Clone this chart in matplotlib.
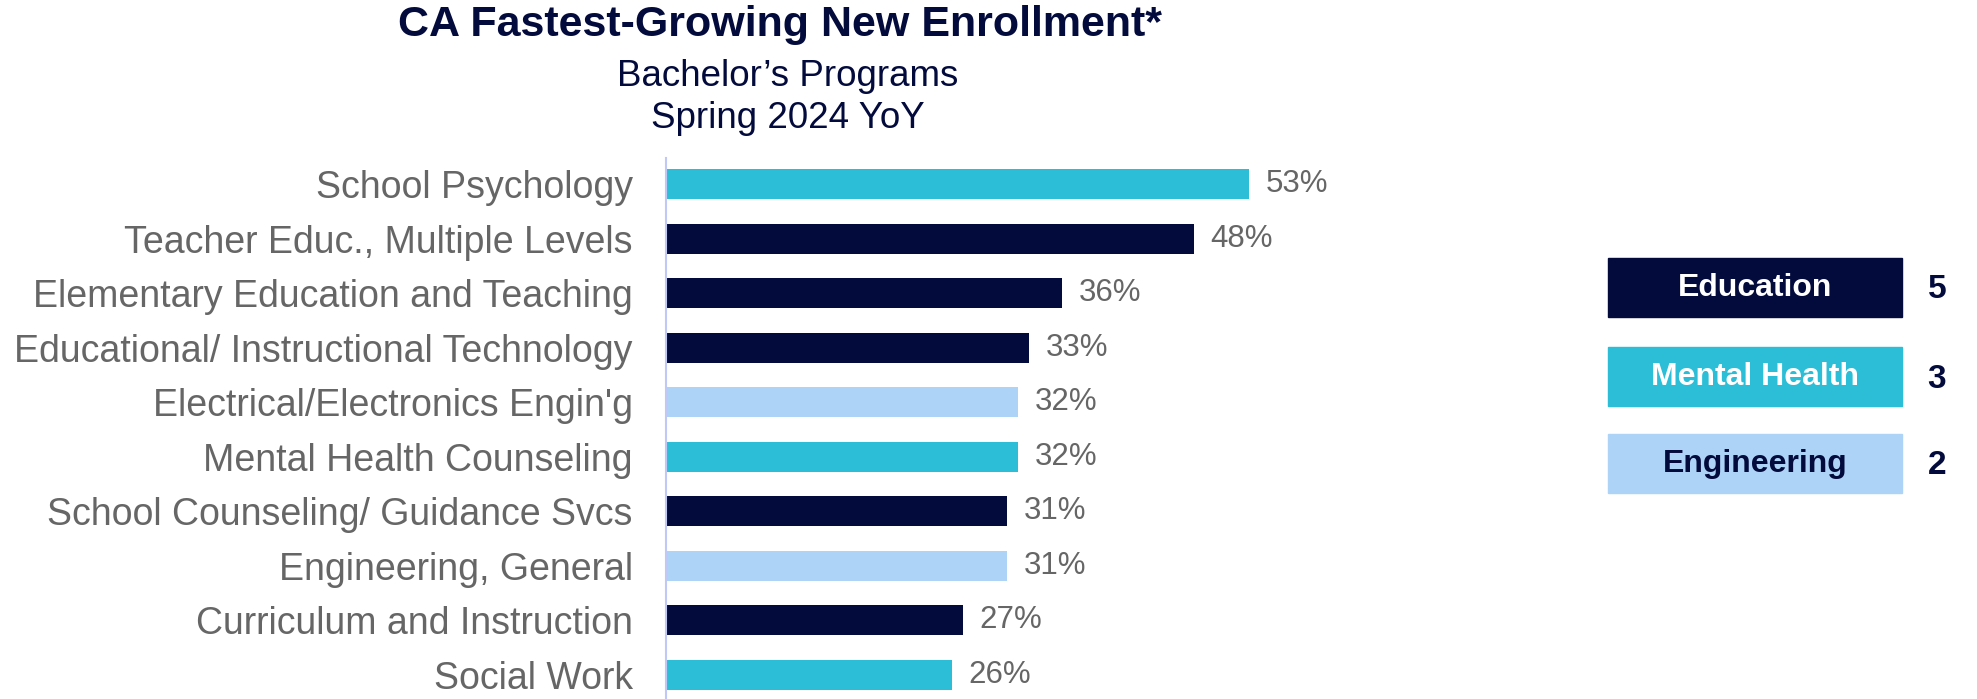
import matplotlib.pyplot as plt
from matplotlib.patches import Rectangle

plt.rcParams['font.family'] = ['Liberation Sans', 'DejaVu Sans']

# data
programs = ['School Psychology', 'Teacher Educ., Multiple Levels',
            'Elementary Education and Teaching', 'Educational/ Instructional Technology',
            "Electrical/Electronics Engin'g", 'Mental Health Counseling',
            'School Counseling/ Guidance Svcs', 'Engineering, General',
            'Curriculum and Instruction', 'Social Work']
growth = [53, 48, 36, 33, 32, 32, 31, 31, 27, 26]
group = ['Mental Health', 'Education', 'Education', 'Education', 'Engineering',
         'Mental Health', 'Education', 'Engineering', 'Education', 'Mental Health']
legend_groups = ['Education', 'Mental Health', 'Engineering']
legend_counts = [5, 3, 2]

navy = '#030b3c'
colors = {'Education': navy, 'Mental Health': '#2bbed6', 'Engineering': '#add3f7'}
text_cols = {'Education': 'white', 'Mental Health': 'white', 'Engineering': navy}
grey = '#666666'

W, H = 1977, 699
fig = plt.figure(figsize=(W / 100, H / 100), dpi=100)
ax = fig.add_axes([666 / W, 0, 660 / W, 1 - 158 / H])

y = list(range(len(programs)))
ax.barh(y, growth, height=0.55, color=[colors[g] for g in group])
ax.set_xlim(0, 60)
ax.set_ylim(9.44, -0.48)
ax.set_yticks(y)
ax.set_yticklabels(programs, fontsize=27, color=grey)
ax.tick_params(axis='y', length=0, pad=24)
ax.set_xticks([])
for s in ['top', 'right', 'bottom']:
    ax.spines[s].set_visible(False)
ax.spines['left'].set_color('#c0c8f8')
ax.spines['left'].set_linewidth(1.5)

for yi, v in zip(y, growth):
    ax.annotate(f'{v}%', (v, yi), xytext=(12, 0), textcoords='offset points',
                va='center', ha='left', fontsize=22.5, color=grey)

# titles
fig.text(780 / W, 1 - 25 / H, 'CA Fastest-Growing New Enrollment*', ha='center', va='center',
         fontsize=31, fontweight='bold', color=navy)
fig.text(788 / W, 1 - 77 / H, 'Bachelor\u2019s Programs', ha='center', va='center',
         fontsize=26.5, color=navy)
fig.text(788 / W, 1 - 119 / H, 'Spring 2024 YoY', ha='center', va='center',
         fontsize=26.5, color=navy)

# legend boxes
box_tops = [258, 347, 434]
for top, g, n in zip(box_tops, legend_groups, legend_counts):
    fig.patches.append(Rectangle((1608 / W, 1 - (top + 59) / H), 294 / W, 59 / H,
                                 transform=fig.transFigure, color=colors[g]))
    fig.text(1755 / W, 1 - (top + 30) / H, g, ha='center', va='center',
             fontsize=23, fontweight='bold', color=text_cols[g])
    fig.text(1937 / W, 1 - (top + 32) / H, str(n), ha='center', va='center',
             fontsize=24, fontweight='bold', color=navy)

fig.savefig('out.png', dpi=100)
